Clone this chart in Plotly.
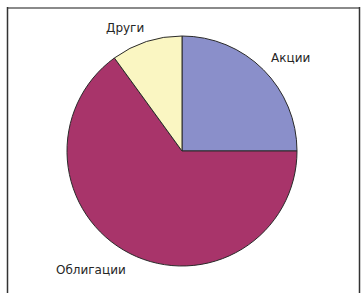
import plotly.graph_objects as go

labels = ["Акции", "Облигации", "Други"]
values = [25, 65, 10]
colors = ["#8A8FCA", "#A8346A", "#FAF6C2"]

W, H = 361, 293
cx, cy, r = 182, 151, 115

fig = go.Figure(go.Pie(
    labels=labels, values=values, sort=False, direction="clockwise", rotation=0,
    marker=dict(colors=colors, line=dict(color="#2a2a2a", width=1)),
    textinfo="none", hoverinfo="label+percent", showlegend=False,
    domain=dict(x=[(cx - r) / W, (cx + r) / W], y=[(H - cy - r) / H, (H - cy + r) / H]),
))

label_pos = {"Акции": (290, 58), "Облигации": (91, 270), "Други": (125, 28)}
for lab in labels:
    x, y = label_pos[lab]
    fig.add_annotation(x=x / W, y=1 - y / H, xref="paper", yref="paper", text=lab,
                       xanchor="center", yanchor="middle",
                       showarrow=False, font=dict(family="DejaVu Sans", size=12, color="#262626"))

fig.add_shape(type="line", xref="paper", yref="paper", x0=7 / W, x1=360 / W, y0=1 - 8 / H, y1=1 - 8 / H,
              line=dict(color="#8a8a8a", width=2))
fig.add_shape(type="line", xref="paper", yref="paper", x0=7.5 / W, x1=7.5 / W, y0=0, y1=1 - 7 / H,
              line=dict(color="#333333", width=1.5))
fig.add_shape(type="line", xref="paper", yref="paper", x0=359.5 / W, x1=359.5 / W, y0=0, y1=1 - 7 / H,
              line=dict(color="#333333", width=1.5))

fig.update_layout(width=W, height=H, margin=dict(l=0, r=0, t=0, b=0),
                  paper_bgcolor="white", plot_bgcolor="white")
fig.write_html("out.html", config={"displayModeBar": False},
               post_script="document.body.style.margin='0';document.body.style.overflow='hidden';")
